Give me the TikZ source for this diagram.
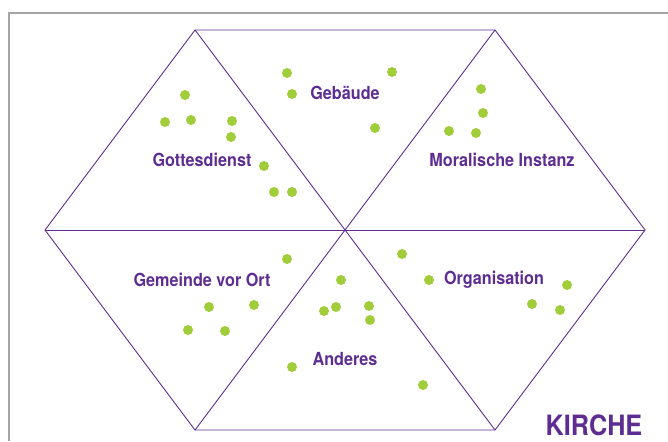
\documentclass[tikz,border=0pt]{standalone}
\usepackage{fontspec}
\setmainfont{TeX Gyre Heros}[FakeStretch=0.9]
\usepackage{tikz}
\definecolor{kpurple}{RGB}{94,45,145}
\definecolor{kgreen}{RGB}{162,205,58}
\definecolor{kgray}{RGB}{165,165,165}

\begin{document}
\begin{tikzpicture}[x=1pt,y=-1pt]
\tikzset{edge/.style={draw=kpurple,line width=0.9pt}}
\tikzset{field/.style={text=kpurple,font=\bfseries\fontsize{18}{20}\selectfont,inner sep=0pt}}
\tikzset{dot/.style={circle,fill=kgreen,draw=none,minimum size=10pt,inner sep=0pt}}
\useasboundingbox (0,0) rectangle (668,441);
% frame
\coordinate (fl) at (9,441);
\coordinate (ftl) at (9,13);
\coordinate (fr) at (668,13);
\draw[kgray,line width=1.4pt] (fl) -- (ftl) -- (fr);
% hexagon
\coordinate (c) at (345,230);
\coordinate (tl) at (195,30);
\coordinate (tr) at (495,30);
\coordinate (r) at (645,230);
\coordinate (br) at (495,430);
\coordinate (bl) at (195,430);
\coordinate (l) at (45,230);
\draw[edge] (tl) -- (tr) -- (r) -- (br) -- (bl) -- (l) -- cycle;
\draw[edge] (tl) -- (br);
\draw[edge] (tr) -- (bl);
\draw[edge] (l) -- (r);
% fields
\node[field] at (202,160) (gott) {Gottesdienst};
\node[field] at (345,93) (geb) {Gebäude};
\node[field] at (502,160) (moral) {Moralische Instanz};
\node[field] at (202,280) (gem) {Gemeinde vor Ort};
\node[field] at (494,280) (org) {Organisation};
\node[field] at (345,359) (and) {Anderes};
\node[text=kpurple,font=\bfseries\fontsize{28}{30}\selectfont,inner sep=0pt] at (594,425) (kirche) {KIRCHE};
% dots
\foreach \x/\y [count=\i] in {185/95,165/122,191/120,232/121,231/137,264/166,274/192,292/192,
  287/73,292/94,392/72,375/128,
  481/89,483/113,449/131,476/133,
  287/259,209/307,254/305,188/330,225/331,
  341/280,324/311,336/307,369/306,370/320,292/367,423/385,
  402/254,429/280,567/285,532/304,560/310}
  \node[dot] at (\x,\y) (d\i) {};
\end{tikzpicture}
\end{document}
